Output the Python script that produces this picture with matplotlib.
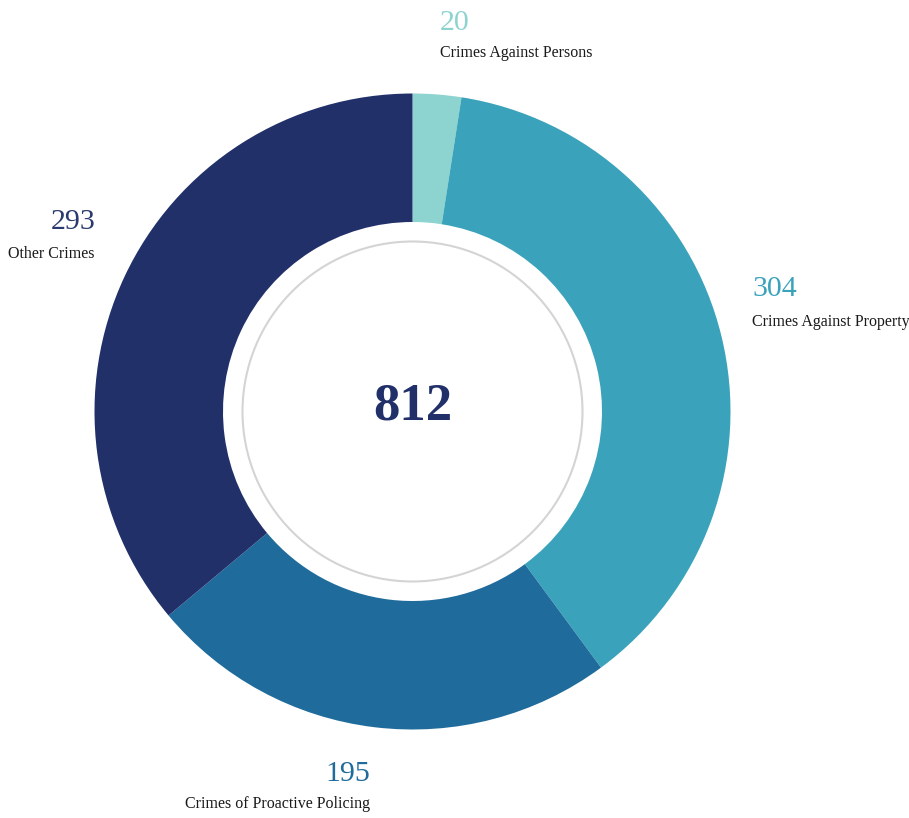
import matplotlib
matplotlib.use("Agg")
import matplotlib.pyplot as plt
from matplotlib.patches import Circle

categories = ["Crimes Against Persons", "Crimes Against Property",
              "Crimes of Proactive Policing", "Other Crimes"]
values = [20, 304, 195, 293]
colors = ["#8dd3cf", "#3aa3bb", "#1f6b9c", "#22306a"]
total = sum(values)

W, H = 909, 818
fig = plt.figure(figsize=(W / 100, H / 100), dpi=100)
ax = fig.add_axes([0, 0, 1, 1])

cx, cy = 412.5, H - 411.5
R, r_in = 318, 189.5

ax.pie(values, colors=colors, startangle=90, counterclock=False,
       center=(cx, cy), radius=R, frame=True,
       wedgeprops=dict(width=R - r_in, linewidth=0))
ax.set_xlim(0, W)
ax.set_ylim(0, H)
ax.axis("off")

ax.add_patch(Circle((cx, cy), 170, fill=False, edgecolor="#d4d4d4", lw=1.5))

serif = ["Liberation Serif", "DejaVu Serif"]
ax.text(cx, H - 406, str(total), ha="center", va="center", fontsize=38,
        fontweight="bold", color="#22306a", family=serif)

# label layout: (x, num_baseline_y, label_baseline_y, ha)
layout = [
    (440, 30, 57, "left"),
    (752, 296, 326, "left"),
    (370, 781, 808, "right"),
    (95, 229, 258, "right"),
]
num_colors = ["#8dd3cf", "#3aa3bb", "#1f6b9c", "#2a3a6e"]
for cat, val, c, (x, ny, ly, ha) in zip(categories, values, num_colors, layout):
    ax.text(x, H - ny, str(val), ha=ha, va="baseline", fontsize=21.5,
            color=c, family=serif)
    ax.text(x, H - ly, cat, ha=ha, va="baseline", fontsize=11.5,
            color="#1a1a1a", family=serif)

fig.savefig("out.png", dpi=100, facecolor="white")
